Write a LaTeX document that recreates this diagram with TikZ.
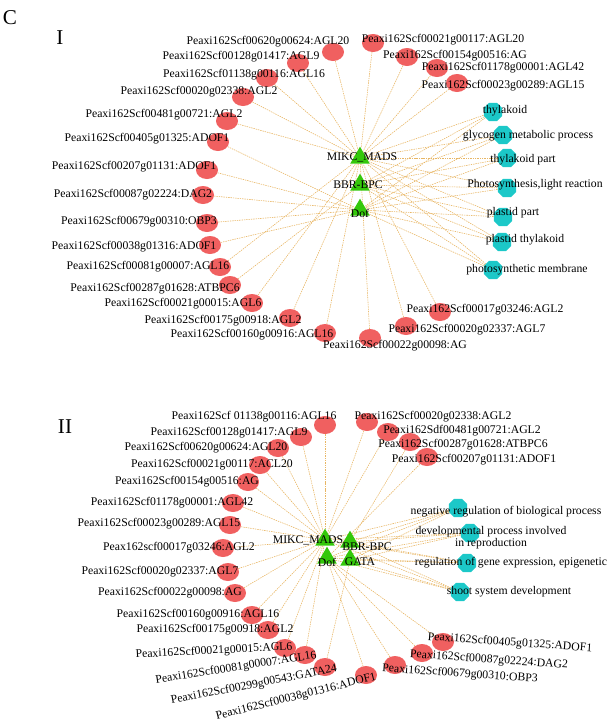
\documentclass[tikz,border=0pt]{standalone}
\usepackage{fontspec}
\setmainfont{Liberation Serif}
\usetikzlibrary{shapes.geometric, backgrounds}
\pgfdeclarelayer{front}
\pgfsetlayers{background,main,front}
\definecolor{GeneRed}{RGB}{240,96,96}
\definecolor{TermCyan}{RGB}{28,200,200}
\definecolor{FamilyGreen}{RGB}{52,200,10}
\definecolor{LinkOrange}{RGB}{232,182,100}

\begin{document}
\begin{tikzpicture}[x=0.03cm, y=-0.03cm,
    gene/.style={ellipse, fill=GeneRed, minimum width=0.66cm, minimum height=0.54cm, inner sep=0pt},
    term/.style={regular polygon, regular polygon sides=8, fill=TermCyan, minimum size=0.6cm, inner sep=0pt},
    family/.style={regular polygon, regular polygon sides=3, fill=FamilyGreen, minimum size=0.68cm, inner sep=0pt},
    lbl/.style={font=\normalsize, inner sep=0pt},
    panel/.style={font=\fontsize{18}{20}\selectfont, inner sep=0pt},
    link/.style={LinkOrange, dash pattern=on 1.2pt off 0.8pt, line width=0.5pt}
  ]
  \useasboundingbox (0,0) rectangle (615,723);
  \node[panel] (labC) at (10,18) {C};
  \node[panel] (labI) at (60,38) {I};
  \node[panel] (labII) at (65,427) {II};

  % ---- panel I: families
  \node[family] (mads1) at (360,158) {};
  \node[family] (bbr1) at (360,185) {};
  \node[family] (dof1) at (360,210) {};
  \begin{pgfonlayer}{front}
    \node[lbl] (mads1t) at (362,157) {MIKC\_MADS};
    \node[lbl] (bbr1t) at (358,185) {BBR-BPC};
    \node[lbl] (dof1t) at (360,213) {Dof};
  \end{pgfonlayer}

  % panel I: genes
  \foreach \n/\ex/\ey/\tx/\ty/\hub/\txt in {
      a1/333/52/268/42/mads1/Peaxi162Scf00620g00624:AGL20,
      a2/298/63/241/57/mads1/Peaxi162Scf00128g01417:AGL9,
      a3/267/78/244/75/mads1/Peaxi162Scf01138g00116:AGL16,
      a4/243/97/199/92/mads1/Peaxi162Scf00020g02338:AGL2,
      a5/227/121/164/115/mads1/Peaxi162Scf00481g00721:AGL2,
      a6/218/142/147/139/dof1/Peaxi162Scf00405g01325:ADOF1,
      a7/207/170/134/167/dof1/Peaxi162Scf00207g01131:ADOF1,
      a8/203/195/133/195/dof1/Peaxi162Scf00087g02224:DAG2,
      a9/207/223/139/222/dof1/Peaxi162Scf00679g00310:OBP3,
      a10/210/245/134/247/dof1/Peaxi162Scf00038g01316:ADOF1,
      a11/220/267/148/267/mads1/Peaxi162Scf00081g00007:AGL16,
      a12/230/285/155/289/bbr1/Peaxi162Scf00287g01628:ATBPC6,
      a13/252/303/183/304/mads1/Peaxi162Scf00021g00015:AGL6,
      a14/290/318/223/321/mads1/Peaxi162Scf00175g00918:AGL2,
      a15/325/333/252/335/mads1/Peaxi162Scf00160g00916:AGL16,
      a16/370/338/395/346/mads1/Peaxi162Scf00022g00098:AG,
      a17/406/326/467/330/mads1/Peaxi162Scf00020g02337:AGL7,
      a18/440/312/485/310/mads1/Peaxi162Scf00017g03246:AGL2,
      a19/373/43/443/40/mads1/Peaxi162Scf00021g00117:AGL20,
      a20/407/57/455/56/mads1/Peaxi162Scf00154g00516:AG,
      a21/437/68/503/68/mads1/Peaxi162Scf01178g00001:AGL42,
      a22/457/83/503/86/mads1/Peaxi162Scf00023g00289:AGL15}{
    \node[gene] (\n) at (\ex,\ey) {};
    \begin{pgfonlayer}{front}
      \node[lbl] (\n t) at (\tx,\ty) {\txt};
    \end{pgfonlayer}
    \begin{pgfonlayer}{background}
      \draw[link] (\n) -- (\hub);
    \end{pgfonlayer}
  }

  % panel I: GO terms
  \foreach \n/\ex/\ey/\tx/\ty/\txt in {
      c1/493/112/505/111/thylakoid,
      c2/503/135/528/136/glycogen metabolic process,
      c3/507/158/523/160/thylakoid part,
      c4/507/188/535/185/{Photosynthesis,light reaction},
      c5/503/217/513/213/plastid part,
      c6/502/242/525/240/plastid thylakoid,
      c7/493/270/527/270/photosynthetic membrane}{
    \node[term] (\n) at (\ex,\ey) {};
    \begin{pgfonlayer}{front}
      \node[lbl] (\n t) at (\tx,\ty) {\txt};
    \end{pgfonlayer}
    \begin{pgfonlayer}{background}
      \foreach \h in {mads1,bbr1,dof1}
        \draw[link] (\n) -- (\h);
    \end{pgfonlayer}
  }

  % ---- panel II: families
  \node[family] (mads2) at (325,540) {};
  \node[family] (bbr2) at (350,542) {};
  \node[family] (dof2) at (327,558) {};
  \node[family] (gata2) at (350,560) {};
  \begin{pgfonlayer}{front}
    \node[lbl] (mads2t) at (308,540) {MIKC\_MADS};
    \node[lbl] (bbr2t) at (367,547) {BBR-BPC};
    \node[lbl] (dof2t) at (327,562) {Dof};
    \node[lbl] (gata2t) at (360,562) {GATA};
  \end{pgfonlayer}

  % panel II: genes
  \foreach \n/\ex/\ey/\tx/\ty/\r/\hub/\txt in {
      e1/325/425/254/417/0/mads2/Peaxi162Scf 01138g00116:AGL16,
      e2/301/437/229/433/0/mads2/Peaxi162Scf00128g01417:AGL9,
      e3/278/448/206/448/0/mads2/Peaxi162Scf00620g00624:AGL20,
      e4/260/465/212/465/0/mads2/Peaxi162Scf00021g00117:ACL20,
      e5/248/482/187/482/0/mads2/Peaxi162Scf00154g00516:AG,
      e6/233/503/172/503/0/mads2/Peaxi162Scf01178g00001:AGL42,
      e7/230/525/159/524/0/mads2/Peaxi162Scf00023g00289:AGL15,
      e8/223/548/179/548/0/mads2/Peax162scf00017g03246:AGL2,
      e9/228/572/160/572/0/mads2/Peaxi162Scf00020g02337:AGL7,
      e10/235/593/170/593/0/mads2/Peaxi162Scf00022g00098:AG,
      e11/252/615/198/615/0/mads2/Peaxi162Scf00160g00916:AGL16,
      e12/268/630/215/630/0/mads2/Peaxi162Scf00175g00918:AGL2,
      e13/285/648/214/651/3/mads2/Peaxi162Scf00021g00015:AGL6,
      e14/305/655/236/668/9/mads2/Peaxi162Scf00081g00007:AGL16,
      e15/325/667/254/685/11/gata2/Peaxi162Scf00299g00543:GATA24,
      e16/366/675/296/697/14/dof2/Peaxi162Scf00038g01316:ADOF1,
      e17/395/665/460/674/-4/dof2/Peaxi162Scf00679g00310:OBP3,
      e18/422/653/489/660/-4/dof2/Peaxi162Scf00087g02224:DAG2,
      e19/443/642/510/643/-4/dof2/Peaxi162Scf00405g01325:ADOF1,
      e20/367/422/433/417/0/mads2/Peaxi162Scf00020g02338:AGL2,
      e21/388/432/462/431/0/mads2/Peaxi162Sdf00481g00721:AGL2,
      e22/410/442/463/445/0/bbr2/Peaxi162Scf00287g01628:ATBPC6,
      e23/427/457/474/460/0/dof2/Peaxi162Scf00207g01131:ADOF1}{
    \node[gene] (\n) at (\ex,\ey) {};
    \begin{pgfonlayer}{front}
      \node[lbl, rotate=\r] (\n t) at (\tx,\ty) {\txt};
    \end{pgfonlayer}
    \begin{pgfonlayer}{background}
      \draw[link] (\n) -- (\hub);
    \end{pgfonlayer}
  }

  % panel II: GO terms
  \foreach \n/\ex/\ey/\tx/\ty/\txt in {
      f1/458/508/506/512/negative regulation of biological process,
      f2/470/533/491/538/{developmental process involved\\in reproduction},
      f3/467/563/511/563/{regulation of gene expression, epigenetic},
      f4/460/592/509/592/shoot system development}{
    \node[term] (\n) at (\ex,\ey) {};
    \begin{pgfonlayer}{front}
      \node[lbl, align=center, font=\fontsize{10}{9}\selectfont] (\n t) at (\tx,\ty) {\txt};
    \end{pgfonlayer}
    \begin{pgfonlayer}{background}
      \foreach \h in {mads2,bbr2,dof2,gata2}
        \draw[link] (\n) -- (\h);
    \end{pgfonlayer}
  }
\end{tikzpicture}
\end{document}
